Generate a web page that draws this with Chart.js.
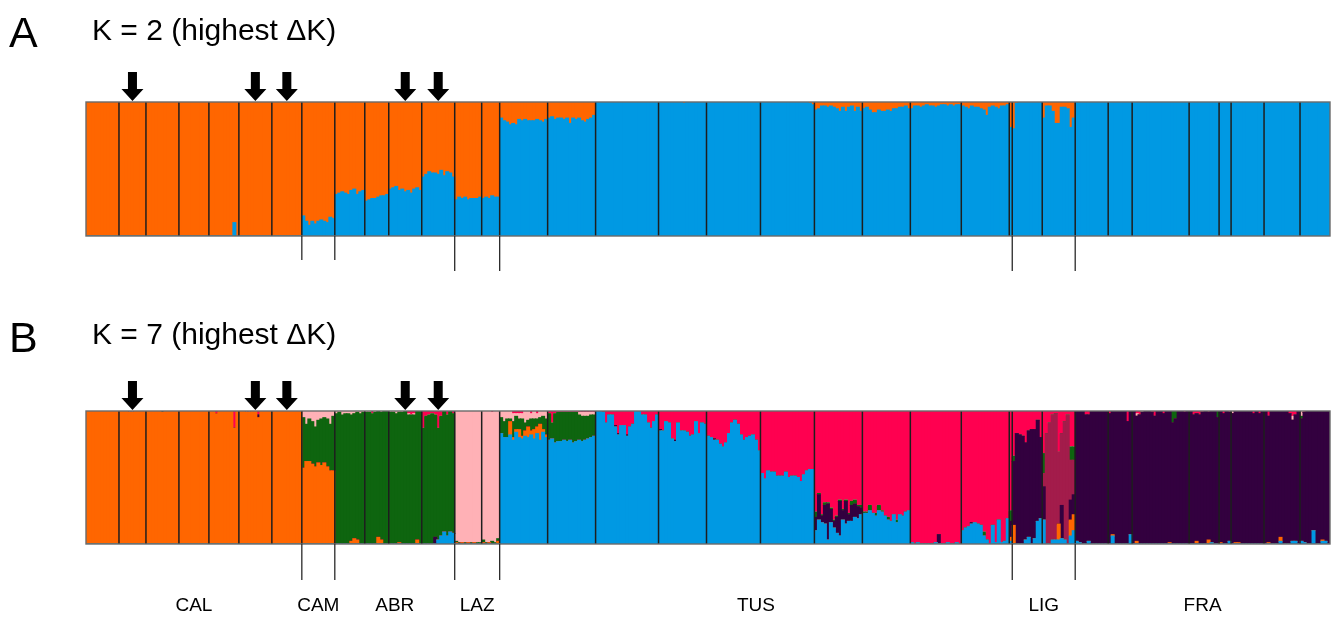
<!DOCTYPE html>
<html>
<head>
<meta charset="utf-8">
<script src="https://cdn.jsdelivr.net/npm/chart.js@4.4.0/dist/chart.umd.min.js"></script>
<style>
  body { margin: 0; background: #fff; width: 1340px; height: 617px; overflow: hidden; }
  .panel { position: absolute; left: 0; width: 1340px; }
</style>
</head>
<body>
<div class="panel" style="top:0;height:300px"><canvas id="chartA"></canvas></div>
<div class="panel" style="top:300px;height:317px"><canvas id="chartB"></canvas></div>
<script>
// individuals per sampled population, left to right
var popSizes = [11, 9, 11, 10, 10, 11, 10, 11, 10, 8, 11, 11, 9, 6, 16, 16, 21, 16, 18, 18, 16, 16, 17, 16, 1, 10, 11, 11, 8, 19, 10, 4, 11, 12, 10];
var groupNames = ['CAL', 'CAM', 'ABR', 'LAZ', 'TUS', 'LIG', 'FRA'];
var groupLastPop = [6, 7, 11, 13, 24, 26, 34];
var arrowPops = [1, 5, 6, 10, 11];

// K = 2 : orange membership (blue = rest)
var k2Orange = [1, 1, 1, 1,
  [1, 1, 1, 1, 1, 1, 1, 1, 0.9, 1],
  1, 1,
  [0.85, 0.89, 0.92, 0.89, 0.91, 0.89, 0.88, 0.89, 0.9, 0.86, 0.87],
  [0.69, 0.68, 0.67, 0.68, 0.69, 0.66, 0.65, 0.69, 0.67, 0.66],
  [0.74, 0.73, 0.72, 0.72, 0.71, 0.7, 0.7, 0.69],
  [0.65, 0.64, 0.63, 0.66, 0.65, 0.67, 0.66, 0.68, 0.65, 0.64, 0.66],
  [0.56, 0.54, 0.52, 0.53, 0.53, 0.54, 0.51, 0.55, 0.52, 0.53, 0.56],
  [0.73, 0.71, 0.72, 0.71, 0.73, 0.72, 0.72, 0.72, 0.71],
  [0.72, 0.71, 0.72, 0.7, 0.71, 0.71],
  [0.12, 0.14, 0.15, 0.17, 0.16, 0.17, 0.13, 0.14, 0.13, 0.14, 0.14, 0.14, 0.13, 0.14, 0.15, 0.13],
  [0.12, 0.11, 0.13, 0.12, 0.12, 0.13, 0.12, 0.16, 0.12, 0.13, 0.12, 0.14, 0.15, 0.13, 0.12, 0.1],
  0,
  [0, 0, 0, 0, 0, 0, 0, 0, 0.01, 0, 0, 0, 0, 0, 0, 0],
  0,
  [0, 0, 0, 0, 0, 0, 0, 0, 0, 0, 0, 0, 0, 0, 0, 0, 0.01, 0.02],
  [0.06, 0.05, 0.03, 0.03, 0.04, 0.03, 0.04, 0.05, 0.07, 0.04, 0.07, 0.04, 0.03, 0.07, 0.04, 0.07],
  [0.05, 0.04, 0.06, 0.08, 0.08, 0.06, 0.07, 0.07, 0.06, 0.07, 0.05, 0.05, 0.04, 0.04, 0.03, 0.05],
  [0.05, 0.03, 0.03, 0.04, 0.03, 0.02, 0.03, 0.03, 0.04, 0.03, 0.02, 0.02, 0.03, 0.02, 0.03, 0.02, 0.02],
  [0.03, 0.04, 0.05, 0.03, 0.04, 0.04, 0.05, 0.06, 0.1, 0.04, 0.03, 0.04, 0.05, 0.03, 0.03, 0.02],
  [0.19],
  [0.2, 0.01, 0, 0, 0, 0, 0, 0, 0, 0],
  [0.12, 0.03, 0.03, 0.07, 0.16, 0.16, 0.04, 0.04, 0.05, 0.19, 0.12],
  0, 0, 0, 0, 0, 0, 0, 0];

// K = 7 : the dominant cluster of each population takes whatever is left
var k7Main = ['orange', 'orange', 'orange', 'orange', 'orange', 'orange', 'orange',
  'green', 'green', 'green', 'green', 'green', 'pink', 'pink',
  'blue', 'blue', 'blue', 'blue', 'blue', 'red', 'red', 'red', 'red', 'red', 'red',
  'purple', 'maroon', 'purple', 'purple', 'purple', 'purple', 'purple', 'purple', 'purple', 'purple'];

var k7Blue = [0, 0, 0, 0, 0, 0, 0, 0, 0, 0, 0,
  [0, 0, 0, 0, 0, 0.03, 0.06, 0.09, 0.06, 0.09, 0.08],
  0, 0, 0, 0, 0, 0, 0,
  [0.53, 0.49, 0.55, 0.54, 0.54, 0.51, 0.51, 0.51, 0.54, 0.5, 0.51, 0.51, 0.5, 0.47, 0.52, 0.55, 0.56, 0.56],
  [0.1, 0.18, 0.16, 0.15, 0.03, 0.16, 0.12, 0.08, 0.06, 0.18, 0.15, 0.17, 0.17, 0.2, 0.19, 0.22],
  [0.23, 0.23, 0.25, 0.23, 0.21, 0.25, 0.24, 0.21, 0.18, 0.17, 0.22, 0.16, 0.22, 0.21, 0.24, 0.25],
  [0.01, 0, 0.01, 0, 0, 0, 0, 0, 0.01, 0, 0, 0, 0.01, 0, 0, 0.01, 0],
  [0.1, 0.12, 0.13, 0.15, 0.16, 0.15, 0.14, 0.06, 0.03, 0, 0.14, 0.01, 0.18, 0.01, 0.02, 0.19],
  0.02,
  [0, 0, 0, 0, 0.03, 0.05, 0, 0.04, 0.17, 0.19],
  [0.18, 0, 0, 0.03, 0.03, 0.03, 0.04, 0.03, 0, 0.06, 0.1],
  [0.02, 0.01, 0, 0, 0.02, 0, 0, 0, 0, 0, 0],
  [0, 0.06, 0, 0, 0, 0, 0, 0.07],
  0,
  [0, 0, 0, 0, 0, 0, 0, 0.01, 0, 0],
  [0, 0, 0, 0.02],
  0,
  [0, 0, 0, 0, 0, 0.02, 0, 0, 0, 0.02, 0.02, 0],
  [0.02, 0.01, 0, 0, 0.1, 0, 0, 0.02, 0.02, 0]];

var k7Orange = [0, 0, 0, 0, 0, 0, 0,
  [0.57, 0.62, 0.62, 0.6, 0.58, 0.61, 0.59, 0.61, 0.58, 0.55, 0.55],
  [0, 0, 0, 0, 0, 0.02, 0.04, 0.03, 0, 0],
  [0, 0, 0, 0, 0.05, 0.03, 0, 0],
  [0, 0, 0, 0.01, 0, 0, 0, 0, 0, 0.03, 0],
  0,
  [0.01, 0, 0.01, 0, 0.01, 0, 0.01, 0, 0],
  [0.01, 0, 0.01, 0, 0, 0.02],
  [0, 0, 0, 0.1, 0.02, 0.02, 0.06, 0.02, 0.04, 0.08, 0.03, 0.07, 0.05, 0.12, 0.02, 0.02],
  0, 0, 0, 0, 0, 0, 0, 0, 0,
  0.03,
  [0.14, 0, 0, 0, 0, 0, 0, 0, 0, 0],
  [0, 0, 0, 0, 0, 0.12, 0, 0, 0, 0.12, 0.12],
  0,
  [0, 0.01, 0, 0, 0, 0, 0, 0],
  [0, 0.02, 0, 0, 0, 0, 0, 0, 0, 0, 0, 0, 0.01, 0, 0, 0, 0, 0, 0],
  [0, 0, 0.02, 0, 0, 0, 0.03, 0, 0, 0],
  [0.01, 0, 0, 0],
  [0, 0.01, 0.01, 0, 0, 0, 0, 0, 0, 0, 0],
  [0, 0.01, 0, 0, 0, 0.03, 0, 0, 0, 0, 0, 0],
  [0, 0, 0, 0, 0, 0, 0, 0.01, 0, 0]];

var k7Purple = [0, 0, 0, 0, 0,
  [0, 0, 0, 0, 0, 0, 0.02, 0, 0, 0, 0],
  0, 0, 0, 0, 0,
  [0, 0, 0, 0, 0.05, 0, 0, 0, 0, 0, 0],
  0, 0, 0, 0,
  [0, 0, 0, 0, 0, 0, 0.01, 0.01, 0, 0, 0.01, 0, 0, 0, 0, 0, 0, 0, 0, 0, 0],
  [0.01, 0, 0, 0, 0, 0.01, 0, 0, 0, 0, 0, 0, 0, 0, 0, 0],
  [0, 0, 0.01, 0, 0, 0, 0, 0, 0, 0, 0, 0, 0, 0, 0, 0, 0, 0],
  0,
  [0.1, 0.19, 0.05, 0.14, 0.27, 0.1, 0.05, 0.12, 0.26, 0.07, 0.17, 0.05, 0.12, 0.1, 0.09, 0.05],
  0,
  [0, 0, 0, 0, 0, 0, 0, 0, 0, 0.07, 0, 0, 0, 0, 0, 0, 0],
  [0, 0, 0, 0.01, 0, 0, 0, 0, 0, 0, 0, 0, 0, 0, 0, 0],
  0.12,
  0,
  [0.25, 0, 0, 0, 0, 0, 0.25, 0, 0, 0.15, 0.15],
  0, 0, 0, 0, 0, 0, 0, 0];

var k7Maroon = [0, 0, 0, 0, 0, 0, 0, 0, 0, 0, 0, 0, 0, 0, 0, 0, 0, 0, 0, 0, 0, 0, 0, 0, 0, 0, 0, 0, 0, 0, 0, 0, 0, 0, 0];

var k7Green = [0, 0,
  [0, 0, 0, 0, 0, 0.01, 0, 0, 0, 0, 0],
  0, 0, 0, 0, 0, 0, 0, 0, 0,
  [0.01, 0.01, 0, 0.01, 0, 0.01, 0, 0.01, 0.01],
  [0.02, 0.01, 0, 0.02, 0.01, 0.02],
  [0.12, 0.12, 0.14, 0.02, 0.12, 0.1, 0.08, 0.13, 0.06, 0.05, 0.09, 0.08, 0.06, 0.05, 0.1, 0.12],
  [0.2, 0.12, 0.22, 0.22, 0.22, 0.21, 0.22, 0.21, 0.23, 0.22, 0.19, 0.19, 0.18, 0.17, 0.17, 0.16],
  0, 0, 0, 0,
  [0.04, 0.01, 0.01, 0.02, 0.01, 0.01, 0.01, 0.01, 0.01, 0.01, 0.01, 0.01, 0.03, 0.03, 0.01, 0.02],
  [0.01, 0.01, 0.04, 0, 0.02, 0.04, 0.01, 0, 0.02, 0, 0, 0.02, 0, 0, 0, 0],
  0,
  [0, 0, 0, 0, 0, 0, 0, 0.03, 0, 0, 0, 0, 0, 0, 0, 0],
  0.08,
  [0.04, 0, 0, 0, 0, 0, 0, 0, 0, 0],
  [0.15, 0, 0, 0, 0, 0, 0, 0, 0, 0.1, 0.1],
  0, 0,
  [0, 0, 0, 0, 0, 0, 0, 0, 0, 0, 0, 0, 0, 0.09, 0.06, 0, 0, 0, 0],
  [0, 0, 0, 0, 0, 0, 0, 0, 0, 0.05],
  0, 0, 0,
  [0.02, 0, 0, 0, 0, 0, 0, 0, 0, 0]];

var k7Pink = [0,
  [0, 0, 0, 0.01, 0.01, 0, 0, 0, 0],
  0, 0, 0,
  [0, 0, 0.01, 0.01, 0, 0, 0, 0, 0, 0, 0],
  0,
  [0.05, 0.1, 0.06, 0.08, 0.12, 0.07, 0.06, 0.05, 0.06, 0.1, 0.04],
  [0.02, 0.01, 0.03, 0.02, 0.02, 0.03, 0.02, 0.01, 0.02, 0.01],
  [0.01, 0.01, 0, 0.01, 0, 0.01, 0, 0],
  [0.01, 0.01, 0.02, 0.01, 0.01, 0, 0.01, 0, 0.01, 0, 0],
  0, 0, 0,
  [0.05, 0.08, 0.06, 0.06, 0.06, 0.02, 0.04, 0.04, 0.09, 0.07, 0.04, 0.06, 0.04, 0.05, 0.04, 0.06],
  [0, 0, 0, 0, 0, 0, 0, 0, 0, 0, 0.02, 0.03, 0.03, 0.03, 0.02, 0.02],
  0, 0, 0, 0, 0, 0, 0, 0, 0, 0, 0, 0, 0,
  [0, 0.02, 0, 0.01, 0, 0, 0, 0, 0, 0, 0, 0, 0, 0, 0, 0, 0, 0, 0],
  0, 0,
  [0.02, 0, 0, 0, 0, 0, 0, 0, 0, 0, 0],
  [0, 0, 0, 0, 0, 0, 0, 0, 0, 0.03, 0, 0],
  [0.04, 0, 0, 0, 0, 0, 0, 0, 0, 0]];

var k7Red = [0, 0, 0, 0,
  [0, 0, 0.02, 0, 0, 0, 0, 0, 0.13, 0],
  [0, 0, 0, 0, 0, 0, 0.03, 0, 0, 0, 0],
  0, 0, 0,
  [0, 0, 0.02, 0, 0, 0, 0, 0],
  [0, 0, 0, 0, 0, 0, 0.02, 0.03, 0.02, 0, 0],
  [0.13, 0.04, 0.03, 0.02, 0.03, 0.13, 0.04, 0, 0.03, 0, 0.02],
  0,
  [0, 0, 0, 0.01, 0, 0],
  [0, 0, 0, 0, 0.02, 0.02, 0.02, 0.02, 0, 0, 0.02, 0, 0.02, 0, 0, 0],
  [0.02, 0.09, 0.02, 0.01, 0.01, 0.01, 0.01, 0.01, 0.01, 0.01, 0.01, 0.01, 0.01, 0.01, 0.01, 0.01],
  [0, 0, 0.01, 0.09, 0.03, 0.03, 0.11, 0.17, 0.11, 0.11, 0.18, 0.12, 0.1, 0, 0, 0.03, 0.03, 0.09, 0.13, 0.08, 0.03],
  [0.14, 0.15, 0.08, 0.09, 0.21, 0.22, 0.09, 0.15, 0.15, 0.16, 0.19, 0.18, 0.08, 0.17, 0.09, 0.1],
  [0.19, 0.2, 0.21, 0.22, 0.25, 0.27, 0.24, 0.17, 0.09, 0.07, 0.1, 0.18, 0.22, 0.2, 0.19, 0.18, 0.22, 0.3],
  0, 0, 0, 0, 0, 0,
  [0.34, 0.17, 0.18, 0.19, 0.24, 0.15, 0.14, 0.14, 0.07, 0.2],
  [0.32, 0.17, 0.09, 0.03, 0.02, 0.31, 0.17, 0.08, 0.03, 0.27, 0.27],
  [0, 0, 0, 0.03, 0.03, 0, 0, 0, 0, 0, 0],
  [0.02, 0, 0, 0, 0, 0, 0.08, 0],
  [0, 0.02, 0.03, 0, 0, 0, 0.01, 0.04, 0, 0, 0.02, 0, 0, 0, 0, 0, 0, 0.01, 0],
  [0, 0.03, 0.02, 0.03, 0.01, 0, 0.01, 0, 0, 0],
  [0, 0.02, 0, 0.01],
  [0, 0, 0, 0, 0, 0, 0, 0.02, 0, 0.02, 0],
  [0, 0.04, 0, 0, 0, 0, 0, 0, 0.02, 0.04, 0.03, 0],
  [0, 0.01, 0, 0, 0, 0, 0, 0, 0, 0]];

var colors = {
  blue: '#0099e3', orange: '#ff6600', purple: '#33003f', maroon: '#a31c4b',
  green: '#0e650f', pink: '#ffb1b6', red: '#ff0050'
};

// per-individual lookup
var popOf = [];
popSizes.forEach(function (n, p) { for (var i = 0; i < n; i++) popOf.push(p); });
var labels = popOf.map(function (p, i) { return String(i + 1); });
var popEnds = [];
popSizes.reduce(function (s, n) { popEnds.push(s + n); return s + n; }, 0);

function expand(list) {
  var out = [];
  list.forEach(function (v, p) {
    for (var i = 0; i < popSizes[p]; i++) out.push(Array.isArray(v) ? (v[i] || 0) : v);
  });
  return out;
}

var k2o = expand(k2Orange);
var k2Sets = [
  { label: 'blue', data: k2o.map(function (v) { return +(1 - v).toFixed(3); }), backgroundColor: colors.blue },
  { label: 'orange', data: k2o, backgroundColor: colors.orange }
];

var k7Raw = {
  blue: expand(k7Blue), orange: expand(k7Orange), purple: expand(k7Purple),
  maroon: expand(k7Maroon), green: expand(k7Green), pink: expand(k7Pink), red: expand(k7Red)
};
var order = ['blue', 'orange', 'purple', 'maroon', 'green', 'pink', 'red'];
order.forEach(function (c) {
  popOf.forEach(function (p, i) {
    if (k7Main[p] === c) {
      var rest = 0;
      order.forEach(function (o) { if (o !== c) rest += k7Raw[o][i]; });
      k7Raw[c][i] = Math.max(0, +(1 - rest).toFixed(3));
    }
  });
});
var k7Sets = order.map(function (c) {
  return { label: c, data: k7Raw[c], backgroundColor: colors[c] };
});

function drawLine(ctx, x1, y1, x2, y2) {
  ctx.beginPath(); ctx.moveTo(x1, y1); ctx.lineTo(x2, y2); ctx.stroke();
}

var overlay = {
  id: 'overlay',
  afterDatasetsDraw: function (chart, args, opts) {
    var ctx = chart.ctx, x = chart.scales.x, a = chart.chartArea;
    ctx.save();
    // population borders
    ctx.strokeStyle = '#1e1e1e';
    ctx.lineWidth = 1.5;
    popEnds.slice(0, -1).forEach(function (c) {
      var px = x.getPixelForValue(c - 0.5);
      drawLine(ctx, px, a.top, px, a.bottom);
    });
    ctx.strokeStyle = '#6a6a6a';
    ctx.lineWidth = 1.4;
    ctx.strokeRect(a.left, a.top, a.right - a.left, a.bottom - a.top);

    // region ticks under the plot
    ctx.strokeStyle = '#2a2a2a';
    ctx.lineWidth = 1.3;
    groupLastPop.slice(0, -1).forEach(function (p, g) {
      var px = x.getPixelForValue(popEnds[p] - 0.5);
      drawLine(ctx, px, a.bottom, px, a.bottom + opts.tickLen[g]);
    });

    // arrows over marked populations
    ctx.fillStyle = '#000';
    arrowPops.forEach(function (p) {
      var start = p === 0 ? 0 : popEnds[p - 1];
      var cx = (x.getPixelForValue(start - 0.5) + x.getPixelForValue(popEnds[p] - 0.5)) / 2;
      var tip = a.top - 1;
      ctx.beginPath();
      ctx.moveTo(cx - 4.5, tip - 29);
      ctx.lineTo(cx + 4.5, tip - 29);
      ctx.lineTo(cx + 4.5, tip - 12);
      ctx.lineTo(cx + 11, tip - 12);
      ctx.lineTo(cx, tip);
      ctx.lineTo(cx - 11, tip - 12);
      ctx.lineTo(cx - 4.5, tip - 12);
      ctx.closePath();
      ctx.fill();
    });

    // panel letter and title
    ctx.fillStyle = '#000';
    ctx.textBaseline = 'alphabetic';
    ctx.textAlign = 'left';
    ctx.font = '43px "Liberation Sans", Arial, sans-serif';
    ctx.fillText(opts.letter, 9, opts.letterY);
    ctx.font = '30px "Liberation Sans", Arial, sans-serif';
    ctx.fillText(opts.title, 92, opts.titleY);

    if (opts.groupLabels) {
      ctx.font = '19px "Liberation Sans", Arial, sans-serif';
      ctx.textAlign = 'center';
      ctx.textBaseline = 'middle';
      var prev = 0;
      groupLastPop.forEach(function (p, g) {
        var l = x.getPixelForValue(prev - 0.5), r = x.getPixelForValue(popEnds[p] - 0.5);
        ctx.fillText(groupNames[g], (l + r) / 2, a.bottom + 62);
        prev = popEnds[p];
      });
    }
    ctx.restore();
  }
};

function makeChart(el, sets, pad, overlayOpts) {
  return new Chart(document.getElementById(el), {
    type: 'bar',
    data: { labels: labels, datasets: sets },
    options: {
      responsive: true,
      maintainAspectRatio: false,
      animation: false,
      events: [],
      layout: { padding: pad },
      datasets: { bar: { barPercentage: 1, categoryPercentage: 1, borderWidth: 0, inflateAmount: 0.5 } },
      scales: {
        x: { stacked: true, display: false },
        y: { stacked: true, display: false, min: 0, max: 1 }
      },
      plugins: { legend: { display: false }, tooltip: { enabled: false }, overlay: overlayOpts }
    },
    plugins: [overlay]
  });
}

makeChart('chartA', k2Sets, { left: 86, right: 10, top: 102, bottom: 64 },
  { letter: 'A', letterY: 47, title: 'K = 2 (highest \u0394K)', titleY: 40, tickLen: [24, 24, 35, 35, 35, 35], groupLabels: false });
makeChart('chartB', k7Sets, { left: 86, right: 10, top: 111, bottom: 73 },
  { letter: 'B', letterY: 52, title: 'K = 7 (highest \u0394K)', titleY: 44, tickLen: [36, 36, 36, 36, 36, 36], groupLabels: true });
</script>
</body>
</html>
